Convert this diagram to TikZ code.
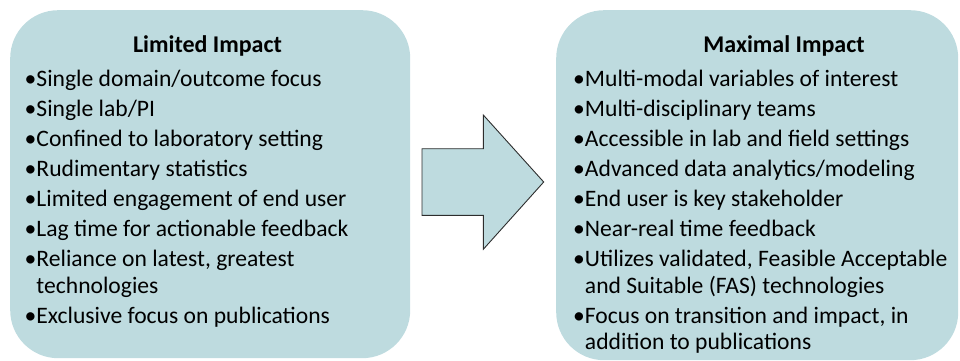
\documentclass[tikz,border=0pt]{standalone}
\usepackage{fontspec}
\setmainfont{Carlito}
\definecolor{panelfill}{RGB}{190,219,223}
\definecolor{arrowedge}{RGB}{45,45,45}

% one bullet paragraph: the bullet hangs, wrapped lines align with the text
\newlength\bulletwd
\newcommand\bulletpara[1]{\par\settowidth\bulletwd{\textbullet}%
  \hangindent=\bulletwd\hangafter=1\noindent\textbullet#1}
% a bullet list whose baseline is that of its first line
\newcommand\bulletlist[2]{\vtop{\hsize=#1\relax\raggedright
  \parindent=0pt\parskip=3.4pt\relax #2\par}}

\begin{document}
\begin{tikzpicture}[x=1pt,y=-1pt,
  panel/.style={fill=panelfill, draw=none, rounded corners=48pt,
    anchor=north west, inner sep=0},
  heading/.style={font=\fontsize{24}{28}\selectfont\bfseries,
    anchor=base, inner sep=0},
  itemlist/.style={font=\fontsize{23.6}{26.6}\selectfont, anchor=base west,
    inner sep=0},
  blockarrow/.style={fill=panelfill, draw=arrowedge, line width=0.9pt,
    line join=miter}
]
\useasboundingbox (0,0) rectangle (960,361);

% the two panels
\node (before) [panel, minimum width=400pt, minimum height=348pt] at (10,10) {};
\node (after)  [panel, minimum width=402pt, minimum height=350pt] at (556,10) {};

% left panel
\node (beforetitle) [heading] at (207.5,52.5) {Limited Impact};
\node (beforelist) [itemlist] at (24.5,86.7) {\bulletlist{380pt}{%
  \bulletpara{Single domain/outcome focus}
  \bulletpara{Single lab/PI}
  \bulletpara{Confined to laboratory setting}
  \bulletpara{Rudimentary statistics}
  \bulletpara{Limited engagement of end user}
  \bulletpara{Lag time for actionable feedback}
  \bulletpara{Reliance on latest, greatest\newline technologies}
  \bulletpara{Exclusive focus on publications}}};

% right panel
\node (aftertitle) [heading] at (784,52.5) {Maximal Impact};
\node (afterlist) [itemlist] at (573,86.7) {\bulletlist{385pt}{%
  \bulletpara{Multi-modal variables of interest}
  \bulletpara{Multi-disciplinary teams}
  \bulletpara{Accessible in lab and field settings}
  \bulletpara{Advanced data analytics/modeling}
  \bulletpara{End user is key stakeholder}
  \bulletpara{Near-real time feedback}
  \bulletpara{Utilizes validated, Feasible Acceptable\newline and Suitable (FAS) technologies}
  \bulletpara{Focus on transition and impact, in\newline addition to publications}}};

% block arrow between the panels
\draw[blockarrow] (422,148.7) -- (483.3,148.7) -- (483.3,115) -- (543.7,182)
  -- (483.3,249.3) -- (483.3,215.3) -- (422,215.3) -- cycle;
\end{tikzpicture}
\end{document}
